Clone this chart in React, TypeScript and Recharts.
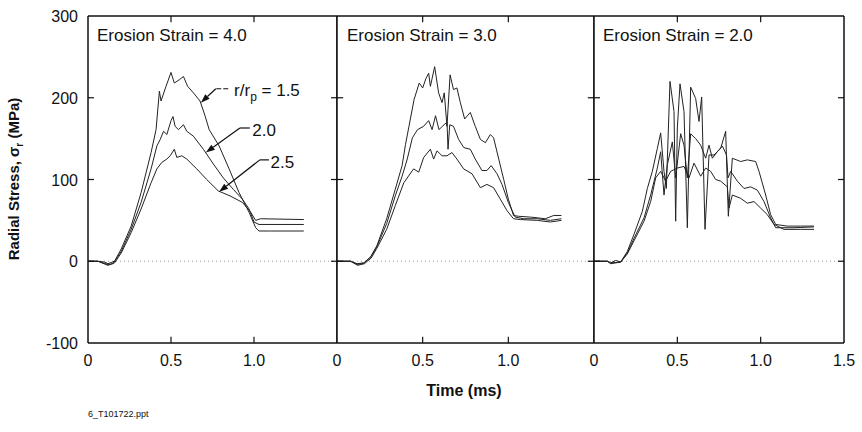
import { LineChart, Line, XAxis, YAxis, ReferenceLine, ReferenceDot } from "recharts"

const font = '"Liberation Sans", Arial, sans-serif'

// [time (ms), radial stress (MPa)]
type Series = [number, number][]

const yTicks = [-100, 0, 100, 200, 300]
const xTicks = [0, 0.5, 1.0, 1.5]
const panelTitles = ["Erosion Strain = 4.0", "Erosion Strain = 3.0", "Erosion Strain = 2.0"]
const radiusLabels = ["1.5", "2.0", "2.5"]

// erosion strain 4.0
const es4R15: Series = [[0, 0], [0.06, 0], [0.1, -1], [0.12, -3], [0.16, 0], [0.2, 15], [0.26, 43], [0.32, 84], [0.38, 133], [0.41, 161], [0.43, 208], [0.44, 196], [0.47, 214], [0.5, 231], [0.52, 218], [0.55, 222], [0.575, 226], [0.6, 214], [0.635, 206], [0.675, 196], [0.705, 178], [0.73, 161], [0.79, 141], [0.85, 113], [0.91, 84], [0.97, 60], [1.01, 41], [1.03, 37], [1.1, 37], [1.3, 37]]
const es4R20: Series = [[0, 0], [0.06, 0], [0.12, -4], [0.15, -3], [0.2, 12], [0.26, 39], [0.32, 72], [0.38, 113], [0.415, 141], [0.435, 149], [0.455, 159], [0.475, 155], [0.5, 172], [0.512, 177], [0.525, 165], [0.545, 161], [0.575, 167], [0.595, 159], [0.635, 153], [0.695, 137], [0.755, 119], [0.815, 102], [0.875, 88], [0.93, 76], [0.97, 64], [1.0, 48], [1.03, 45], [1.3, 45]]
const es4R25: Series = [[0, 0], [0.06, 0], [0.12, -5], [0.16, -2], [0.2, 10], [0.26, 35], [0.32, 64], [0.38, 96], [0.415, 113], [0.445, 121], [0.475, 125], [0.495, 129], [0.52, 137], [0.535, 127], [0.565, 129], [0.595, 125], [0.655, 113], [0.715, 100], [0.785, 86], [0.855, 80], [0.93, 72], [0.98, 60], [1.01, 50], [1.04, 52], [1.3, 51]]

// erosion strain 3.0
const es3R15: Series = [[0, 0], [0.08, 0], [0.117, -3], [0.156, -2], [0.195, 5], [0.233, 19], [0.29, 52], [0.34, 88], [0.38, 117], [0.4, 143], [0.42, 165], [0.45, 198], [0.48, 218], [0.5, 212], [0.52, 224], [0.535, 230], [0.545, 214], [0.57, 238], [0.593, 206], [0.613, 194], [0.626, 206], [0.642, 165], [0.66, 228], [0.68, 210], [0.7, 212], [0.72, 194], [0.745, 174], [0.778, 182], [0.807, 165], [0.837, 149], [0.866, 145], [0.895, 155], [0.914, 151], [0.944, 125], [0.973, 100], [1.0, 76], [1.03, 56], [1.06, 55], [1.13, 54], [1.216, 52], [1.265, 56], [1.31, 56]]
const es3R20: Series = [[0, 0], [0.08, 0], [0.12, -4], [0.16, -2], [0.2, 6], [0.233, 18], [0.29, 46], [0.34, 80], [0.38, 104], [0.41, 125], [0.44, 151], [0.47, 161], [0.505, 165], [0.535, 172], [0.555, 161], [0.575, 178], [0.595, 161], [0.625, 167], [0.642, 170], [0.648, 137], [0.658, 167], [0.68, 165], [0.71, 149], [0.74, 139], [0.778, 137], [0.807, 125], [0.846, 111], [0.875, 111], [0.9, 117], [0.934, 107], [0.963, 94], [1.0, 72], [1.04, 54], [1.09, 52], [1.17, 52], [1.245, 50], [1.31, 52]]
const es3R25: Series = [[0, 0], [0.08, 0], [0.12, -5], [0.16, -3], [0.2, 4], [0.233, 16], [0.29, 39], [0.34, 68], [0.39, 96], [0.447, 113], [0.477, 109], [0.506, 127], [0.545, 137], [0.564, 125], [0.584, 135], [0.613, 129], [0.642, 129], [0.671, 133], [0.7, 125], [0.739, 113], [0.788, 107], [0.837, 90], [0.875, 94], [0.914, 90], [0.953, 76], [0.992, 62], [1.03, 52], [1.07, 51], [1.17, 50], [1.245, 48], [1.31, 50]]

// erosion strain 2.0
const es2R15: Series = [[0, 0], [0.08, 0], [0.1, -2], [0.13, 1], [0.16, -1], [0.2, 12], [0.24, 33], [0.29, 61], [0.32, 89], [0.35, 110], [0.38, 138], [0.4, 157], [0.42, 110], [0.434, 89], [0.456, 220], [0.48, 183], [0.49, 49], [0.5, 163], [0.516, 217], [0.54, 183], [0.56, 41], [0.58, 213], [0.61, 199], [0.63, 171], [0.646, 201], [0.666, 39], [0.69, 130], [0.72, 130], [0.76, 138], [0.79, 159], [0.806, 55], [0.83, 126], [0.88, 122], [0.92, 124], [0.97, 122], [0.99, 110], [1.03, 81], [1.06, 57], [1.09, 45], [1.16, 43], [1.24, 43], [1.32, 43]]
const es2R20: Series = [[0, 0], [0.08, 0], [0.1, -2], [0.16, -1], [0.2, 10], [0.24, 28], [0.3, 53], [0.34, 81], [0.38, 114], [0.4, 134], [0.42, 81], [0.44, 118], [0.47, 146], [0.49, 102], [0.52, 156], [0.54, 142], [0.56, 102], [0.58, 156], [0.61, 150], [0.64, 142], [0.67, 126], [0.69, 142], [0.71, 126], [0.74, 134], [0.77, 141], [0.795, 130], [0.804, 102], [0.82, 110], [0.86, 98], [0.9, 89], [0.94, 91], [0.98, 87], [1.02, 73], [1.06, 53], [1.09, 41], [1.2, 41], [1.32, 42]]
const es2R25: Series = [[0, 0], [0.08, 0], [0.1, -3], [0.16, -1], [0.2, 9], [0.24, 25], [0.3, 49], [0.34, 73], [0.37, 102], [0.4, 110], [0.43, 98], [0.46, 110], [0.5, 114], [0.54, 116], [0.57, 102], [0.6, 120], [0.64, 104], [0.67, 114], [0.7, 110], [0.73, 100], [0.76, 98], [0.8, 91], [0.81, 65], [0.83, 81], [0.88, 77], [0.92, 71], [0.96, 73], [1.0, 65], [1.04, 57], [1.08, 45], [1.14, 39], [1.24, 39], [1.32, 39]]

const toPts = (s: Series) => s.map(([t, v]) => ({ t, v }))

const ink = "#111"
const X_MIN = 0
const X_MAX = 1.5
const Y_MIN = -100
const Y_MAX = 300
// inward tick length, in data units (about 6px)
const TICK_DX = 0.036
const TICK_DY = 7.5

function BottomTick(props: any) {
  const { x, y, payload, showLast } = props
  const v = payload.value
  if (v >= X_MAX && !showLast) return <g />
  return (
    <text x={x} y={y + 23} textAnchor="middle" fontSize={16} fontFamily={font} fill={ink}>
      {v === 0 ? "0" : v.toFixed(1)}
    </text>
  )
}

function LeftTick(props: any) {
  const { x, y, payload } = props
  return (
    <text x={x - 10} y={y + 6} textAnchor="end" fontSize={16} fontFamily={font} fill={ink}>
      {payload.value}
    </text>
  )
}

function arrowShape(p: any) {
  const { x1, y1, x2, y2 } = p
  const a = Math.atan2(y2 - y1, x2 - x1)
  const L = 9
  const W = 3.2
  const bx = x2 - L * Math.cos(a)
  const by = y2 - L * Math.sin(a)
  const px = -Math.sin(a) * W
  const py = Math.cos(a) * W
  return (
    <g>
      <line x1={x1} y1={y1} x2={bx} y2={by} stroke={ink} strokeWidth={1.2} />
      <polygon points={`${x2},${y2} ${bx + px},${by + py} ${bx - px},${by - py}`} fill={ink} />
    </g>
  )
}

type PanelProps = {
  left: number
  width: number
  marginLeft: number
  marginRight: number
  yAxisWidth: number
  first?: boolean
  last?: boolean
  series: Series[]
  children?: any
}

function Panel({ left, width, marginLeft, marginRight, yAxisWidth, first, last, series, children }: PanelProps) {
  const innerX = xTicks.filter((t) => t > X_MIN && t < X_MAX)
  const innerY = yTicks.filter((v) => v > Y_MIN && v < Y_MAX)
  return (
    <div style={{ position: "absolute", left, top: 0 }}>
      <LineChart width={width} height={432} margin={{ top: 16, right: marginRight, bottom: 0, left: marginLeft }}>
        <XAxis
          dataKey="t"
          type="number"
          domain={[X_MIN, X_MAX]}
          ticks={xTicks}
          allowDataOverflow
          height={89}
          tickSize={0}
          tickMargin={0}
          tickLine={false}
          axisLine={false}
          tick={(p: any) => <BottomTick {...p} showLast={last} />}
          interval={0}
        />
        <YAxis
          type="number"
          domain={[Y_MIN, Y_MAX]}
          ticks={yTicks}
          width={yAxisWidth}
          tickSize={0}
          tickMargin={0}
          tickLine={false}
          axisLine={false}
          tick={first ? (p: any) => <LeftTick {...p} /> : false}
          interval={0}
        />
        <ReferenceLine y={0} stroke="#999" strokeDasharray="1 3" />
        {series.map((s, i) => (
          <Line
            key={i}
            data={toPts(s)}
            dataKey="v"
            type="linear"
            dot={false}
            stroke="#222"
            strokeWidth={1}
            isAnimationActive={false}
          />
        ))}

        {/* frame */}
        <ReferenceLine x={X_MIN} stroke={ink} strokeWidth={1.5} ifOverflow="visible" />
        <ReferenceLine x={X_MAX} stroke={ink} strokeWidth={1.5} ifOverflow="visible" />
        <ReferenceLine y={Y_MIN} stroke={ink} strokeWidth={1.5} ifOverflow="visible" />
        <ReferenceLine y={Y_MAX} stroke={ink} strokeWidth={1.5} ifOverflow="visible" />

        {/* inward ticks on all four sides */}
        {innerX.map((t) => (
          <ReferenceLine key={`b${t}`} segment={[{ x: t, y: Y_MIN }, { x: t, y: Y_MIN + TICK_DY }]} stroke={ink} strokeWidth={1.2} ifOverflow="visible" />
        ))}
        {innerX.map((t) => (
          <ReferenceLine key={`t${t}`} segment={[{ x: t, y: Y_MAX }, { x: t, y: Y_MAX - TICK_DY }]} stroke={ink} strokeWidth={1.2} ifOverflow="visible" />
        ))}
        {innerY.map((v) => (
          <ReferenceLine key={`l${v}`} segment={[{ x: X_MIN, y: v }, { x: X_MIN + TICK_DX, y: v }]} stroke={ink} strokeWidth={1.2} ifOverflow="visible" />
        ))}
        {innerY.map((v) => (
          <ReferenceLine key={`r${v}`} segment={[{ x: X_MAX, y: v }, { x: X_MAX - TICK_DX, y: v }]} stroke={ink} strokeWidth={1.2} ifOverflow="visible" />
        ))}
        {children}
      </LineChart>
    </div>
  )
}

const labelText = (content: any) => (p: any) => (
  <text x={p.cx} y={p.cy} dy={6} fontSize={17} fontFamily={font} fill={ink}>
    {content}
  </text>
)

export default function App() {
  return (
    <div
      style={{
        position: "absolute",
        left: 0,
        top: 0,
        width: 862,
        height: 432,
        background: "#fff",
        fontFamily: font,
        color: ink,
        overflow: "hidden",
      }}
    >
      <Panel left={0} width={337} marginLeft={0} marginRight={0} yAxisWidth={88} first series={[es4R15, es4R20, es4R25]}>
        {/* r/rp = 1.5 */}
        <ReferenceLine segment={[{ x: 0.845, y: 211 }, { x: 0.77, y: 211 }]} stroke={ink} strokeDasharray="5 2" ifOverflow="visible" />
        <ReferenceLine segment={[{ x: 0.77, y: 211 }, { x: 0.68, y: 194 }]} shape={arrowShape} ifOverflow="visible" />
        <ReferenceDot
          x={0.88}
          y={210}
          ifOverflow="visible"
          shape={labelText(
            <>
              r/r<tspan dy={5} fontSize={12}>p</tspan>
              <tspan dy={-5}> = {radiusLabels[0]}</tspan>
            </>
          )}
        />
        {/* 2.0 */}
        <ReferenceLine segment={[{ x: 0.975, y: 163 }, { x: 0.915, y: 163 }]} stroke={ink} strokeWidth={1.2} ifOverflow="visible" />
        <ReferenceLine segment={[{ x: 0.915, y: 163 }, { x: 0.71, y: 133 }]} shape={arrowShape} ifOverflow="visible" />
        <ReferenceDot x={0.99} y={161} ifOverflow="visible" shape={labelText(radiusLabels[1])} />
        {/* 2.5 */}
        <ReferenceLine segment={[{ x: 1.09, y: 124 }, { x: 1.035, y: 124 }]} stroke={ink} strokeWidth={1.2} ifOverflow="visible" />
        <ReferenceLine segment={[{ x: 1.035, y: 124 }, { x: 0.79, y: 85 }]} shape={arrowShape} ifOverflow="visible" />
        <ReferenceDot x={1.1} y={122} ifOverflow="visible" shape={labelText(radiusLabels[2])} />
      </Panel>
      <Panel left={325} width={269} marginLeft={12} marginRight={0} yAxisWidth={0} series={[es3R15, es3R20, es3R25]} />
      <Panel left={582} width={274} marginLeft={12} marginRight={12} yAxisWidth={0} last series={[es2R15, es2R20, es2R25]} />

      {panelTitles.map((title, i) => (
        <div
          key={title}
          style={{
            position: "absolute",
            left: [97, 347, 603][i],
            top: 27,
            fontSize: 17,
            lineHeight: "17px",
            whiteSpace: "nowrap",
          }}
        >
          {title}
        </div>
      ))}

      <div
        style={{
          position: "absolute",
          left: 17,
          top: 179,
          transform: "translate(-50%, -50%) rotate(-90deg)",
          fontSize: 15,
          fontWeight: "bold",
          whiteSpace: "nowrap",
          lineHeight: "18px",
        }}
      >
        Radial Stress, σ<sub style={{ fontSize: 10 }}>r</sub> (MPa)
      </div>

      <div
        style={{
          position: "absolute",
          left: 464,
          top: 383,
          transform: "translateX(-50%)",
          fontSize: 16,
          fontWeight: "bold",
          lineHeight: "16px",
          whiteSpace: "nowrap",
        }}
      >
        Time (ms)
      </div>

      <div style={{ position: "absolute", left: 88, top: 409, fontSize: 9, whiteSpace: "nowrap" }}>6_T101722.ppt</div>
    </div>
  )
}
